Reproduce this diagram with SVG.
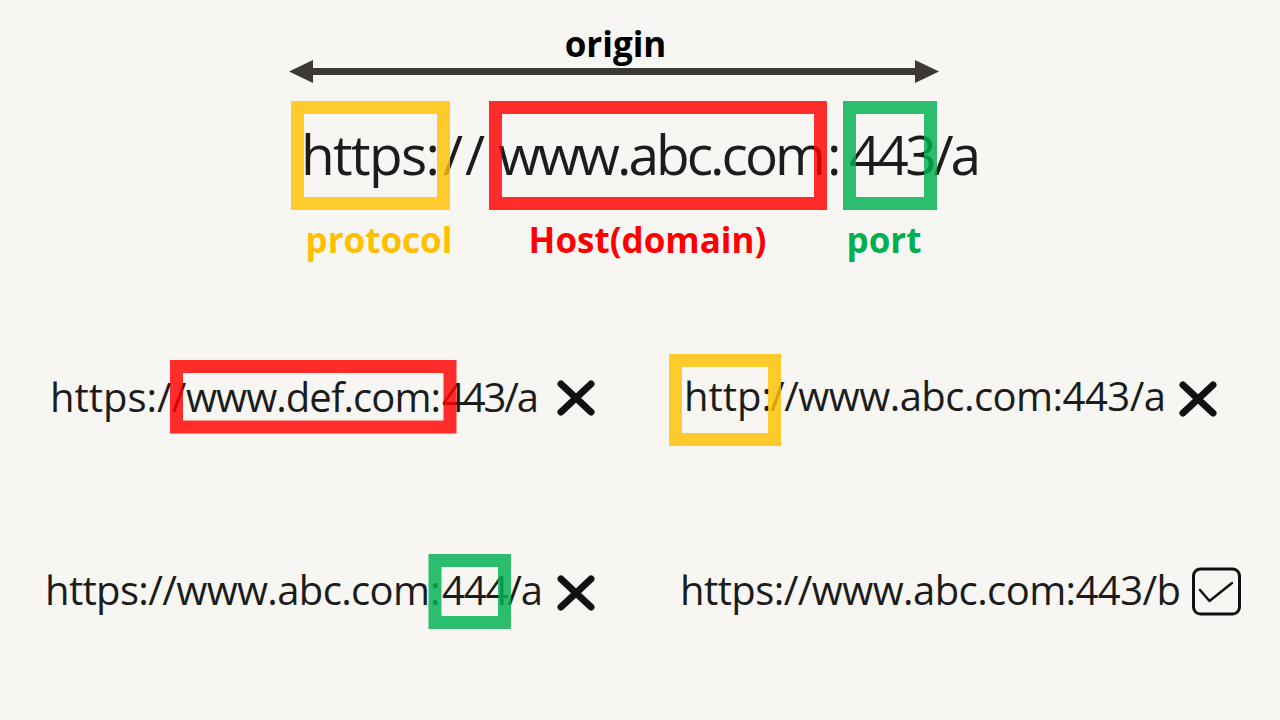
<svg xmlns="http://www.w3.org/2000/svg" xmlns:xlink="http://www.w3.org/1999/xlink" width="1280" height="720" viewBox="0 0 1280 720">
  <defs>
    <style>
      .url { font-family: "Open Sans", "Noto Sans", "DejaVu Sans", sans-serif; fill: #1c1c1c; }
      .big { font-size: 55px; }
      .small { font-size: 40px; }
      .lbl { font-family: "Open Sans", "Noto Sans", "DejaVu Sans", sans-serif; font-weight: 700; font-size: 35px; text-anchor: middle; }
      .frame { fill: none; stroke-width: 13; stroke-opacity: 0.82; }
      .yellow { stroke: #FFC000; }
      .red { stroke: #FF0000; }
      .green { stroke: #00B050; }
      .mark { fill: none; stroke: #111111; stroke-width: 7; stroke-linecap: round; }
    </style>
    <marker id="head" viewBox="0 0 24 23" markerWidth="24" markerHeight="23" refX="0" refY="11.5" markerUnits="userSpaceOnUse" orient="auto-start-reverse">
      <path d="M0,0 L24,11.5 L0,23 Z" fill="#3b3835"/>
    </marker>
    <path id="xmark" class="mark" d="M-15,-14 L15,14 M15,-14 L-15,14"/>
  </defs>

  <rect x="0" y="0" width="1280" height="720" fill="#f7f6f2"/>

  <g id="connectors">
    <line x1="313" y1="71.5" x2="915" y2="71.5" stroke="#3b3835" stroke-width="7" marker-start="url(#head)" marker-end="url(#head)"/>
  </g>

  <g id="origin-label">
    <text class="lbl" x="615.5" y="57" fill="#000000">origin</text>
  </g>

  <g id="main-url">
    <text class="url big" y="175"><tspan x="301" textLength="139">https:</tspan><tspan x="443">/</tspan><tspan x="465">/</tspan><tspan x="498" textLength="328">www.abc.com</tspan><tspan x="827">:</tspan><tspan x="849" textLength="132">443/a</tspan></text>
    <rect class="frame yellow" x="297.5" y="107.5" width="146" height="96"/>
    <rect class="frame red" x="495.5" y="107.5" width="325" height="96"/>
    <rect class="frame green" x="849.5" y="107.5" width="81" height="96"/>
  </g>

  <g id="label-protocol">
    <text class="lbl" x="379" y="253" fill="#FFC000">protocol</text>
  </g>
  <g id="label-host">
    <text class="lbl" x="647.5" y="253" fill="#FF0000">Host(domain)</text>
  </g>
  <g id="label-port">
    <text class="lbl" x="884" y="253" fill="#00B050">port</text>
  </g>

  <g id="case-host">
    <text class="url small" y="411.5"><tspan x="50">https://</tspan><tspan x="186" textLength="255">www.def.com:</tspan><tspan x="442" textLength="97">443/a</tspan></text>
    <rect class="frame red" x="176.5" y="366.5" width="273.5" height="60.5"/>
    <use xlink:href="#xmark" x="576" y="398"/>
  </g>

  <g id="case-protocol">
    <text class="url small" y="411"><tspan x="684">http:</tspan><tspan x="770" textLength="396">//www.abc.com:443/a</tspan></text>
    <rect class="frame yellow" x="675.5" y="360.5" width="99" height="79"/>
    <use xlink:href="#xmark" x="1198" y="399"/>
  </g>

  <g id="case-port">
    <text class="url small" y="605"><tspan x="45" textLength="385">https://www.abc.com</tspan><tspan x="430">:</tspan><tspan x="442" textLength="101">444/a</tspan></text>
    <rect class="frame green" x="435" y="560.5" width="69.5" height="62"/>
    <use xlink:href="#xmark" x="576" y="593"/>
  </g>

  <g id="case-same">
    <text class="url small" x="680" y="605" textLength="501">https://www.abc.com:443/b</text>
    <rect x="1193.5" y="569" width="46" height="45" rx="7" fill="none" stroke="#111111" stroke-width="3"/>
    <path d="M1200,590 L1209.5,601 L1232,583" fill="none" stroke="#111111" stroke-width="2.5" stroke-linecap="round" stroke-linejoin="round"/>
  </g>
</svg>
